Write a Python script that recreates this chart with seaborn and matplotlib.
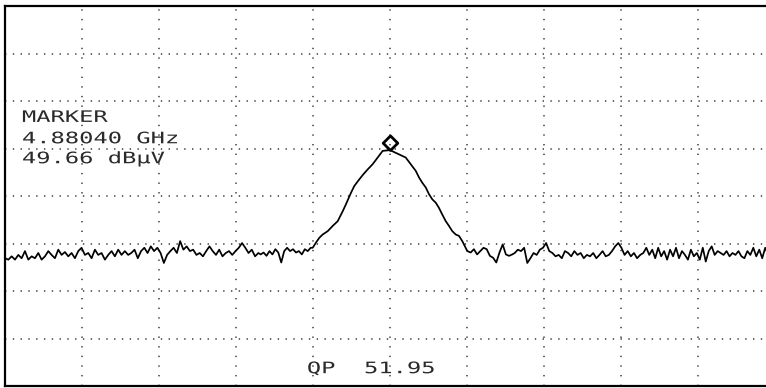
import numpy as np
import pandas as pd
import matplotlib
matplotlib.use("Agg")
import matplotlib.pyplot as plt
import seaborn as sns
from matplotlib.path import Path
from matplotlib.patheffects import AbstractPathEffect
from matplotlib.transforms import Affine2D

# ---------------- data ----------------
center_mhz = 4880.4
span_start_mhz = 4875.4
span_stop_mhz = 4885.4
ref_bottom_db = 0
ref_top_db = 80
marker_freq_text = "4.88040 GHz"
marker_level_text = "49.66 dBµV"
marker_level = 49.66
qp_text = "QP  51.95"

# noise floor segments: (start MHz, stop MHz), levels in dBµV
seg_a_range = (4875.40, 4877.00)
seg_a = [26.9, 26.6, 27.3, 26.6, 27.6, 26.9, 28.4, 26.6, 27.3, 26.9, 28.0, 26.6,
         27.3, 28.4, 27.6, 26.9, 28.7, 27.6, 28.2, 27.3, 28.0, 26.9, 28.4, 29.1,
         27.6, 28.0, 26.9, 28.7, 27.6, 28.0, 26.6, 27.6, 28.4, 27.3, 28.7, 27.6,
         28.4, 27.6]
seg_b_range = (4877.04, 4878.69)
seg_b = [28.0, 28.7, 26.9, 28.4, 29.1, 28.0, 29.4, 28.4, 29.1, 28.0, 25.9, 27.6,
         28.4, 29.1, 28.0, 30.5, 28.7, 29.4, 28.4, 28.7, 27.6, 28.0, 27.3, 28.4,
         29.4, 28.4, 27.6, 28.7, 27.3, 28.0, 28.4, 27.6, 28.4, 29.1, 30.1, 29.1,
         28.0, 28.7, 27.3, 28.0]
seg_c_range = (4878.72, 4879.37)
seg_c = [27.7, 28.1, 27.4, 28.4, 27.7, 28.8, 28.1, 26.0, 28.4, 29.1, 28.4, 28.8,
         28.1, 28.4, 27.7, 28.8, 28.4, 29.1]

# signal peak (explicit frequencies)
peak_freq = [4879.396, 4879.439, 4879.482, 4879.526, 4879.591, 4879.656, 4879.721,
             4879.786, 4879.829, 4879.894, 4879.936, 4880.001, 4880.045, 4880.110,
             4880.175, 4880.240, 4880.305, 4880.400, 4880.474, 4880.539, 4880.604,
             4880.669, 4880.734, 4880.777, 4880.819, 4880.864, 4880.906, 4880.949,
             4880.994, 4881.036, 4881.079, 4881.124, 4881.166, 4881.209, 4881.253,
             4881.296, 4881.339, 4881.383, 4881.404]
peak_level = [29.1, 30.2, 31.2, 31.9, 32.6, 33.7, 34.7, 36.8, 38.3, 40.7, 42.1, 43.5,
              44.4, 45.6, 46.7, 48.1, 49.5, 49.66, 49.1, 48.6, 48.1, 46.7, 45.3, 43.9,
              42.8, 41.8, 40.4, 39.3, 38.6, 37.5, 36.1, 34.7, 33.7, 32.6, 31.9, 31.6,
              30.5, 29.1, 28.4]

seg_d_range = (4881.448, 4881.988)
seg_d = [28.1, 28.8, 27.7, 28.4, 29.1, 28.8, 27.4, 27.0, 26.0, 28.1, 29.8, 27.7,
         27.4, 27.7]
seg_e_range = (4882.02, 4883.65)
seg_e = [28.0, 28.7, 28.4, 29.1, 25.9, 26.9, 28.0, 27.6, 28.7, 29.1, 30.1, 28.4,
         28.0, 27.3, 27.6, 26.9, 28.4, 28.0, 27.3, 28.4, 27.6, 28.0, 26.9, 27.6,
         27.3, 28.0, 26.9, 27.6, 28.4, 27.3, 27.6, 28.4, 29.4, 30.1, 29.1, 27.6,
         28.4, 27.3, 28.0, 26.9, 27.6]
seg_f_range = (4883.69, 4885.35)
seg_f = [28.0, 29.1, 27.6, 28.7, 26.9, 29.1, 27.3, 28.4, 26.6, 28.7, 27.3, 29.1,
         26.9, 28.4, 27.6, 26.6, 28.7, 27.3, 28.0, 26.6, 29.1, 26.2, 28.4, 29.4,
         27.6, 28.4, 28.0, 27.6, 28.4, 27.3, 28.0, 27.6, 28.4, 27.3, 26.9, 28.4,
         27.6, 29.1, 27.3, 28.7, 26.9, 29.1, 27.6, 28.4]

# ---------------- build trace table ----------------
freqs, levels = [], []
def add_seg(rng, vals):
    freqs.extend(np.linspace(rng[0], rng[1], len(vals)))
    levels.extend(vals)

add_seg(seg_a_range, seg_a)
add_seg(seg_b_range, seg_b)
add_seg(seg_c_range, seg_c)
freqs.extend(peak_freq)
levels.extend(peak_level)
add_seg(seg_d_range, seg_d)
add_seg(seg_e_range, seg_e)
add_seg(seg_f_range, seg_f)
df = pd.DataFrame({"freq": freqs, "level": levels})


class HStretch(AbstractPathEffect):
    """Widen glyphs horizontally (plotter-style wide lettering)."""
    def __init__(self, sx):
        super().__init__()
        self.sx = sx

    def draw_path(self, renderer, gc, tpath, affine, rgbFace=None):
        renderer.draw_path(gc, tpath, Affine2D().scale(self.sx, 1.0) + affine, rgbFace)


# ---------------- figure ----------------
sns.set_style("white")
plt.rcParams["font.family"] = ["DejaVu Sans Mono", "DejaVu Sans"]

W, H = 766, 388
fig = plt.figure(figsize=(W / 100, H / 100), dpi=100)
ax = fig.add_axes([5 / W, 2 / H, 770 / W, 380 / H])
ax.set_facecolor("white")

ax.set_xlim(span_start_mhz, span_stop_mhz)
ax.set_ylim(ref_bottom_db, ref_top_db)

# graticule
for k in range(1, 10):
    ax.axvline(span_start_mhz + k, color="#3a3a3a", lw=1.1, dashes=(0.9, 5.4), zorder=1)
for k in range(1, 8):
    ax.axhline(ref_bottom_db + 10 * k, color="#3a3a3a", lw=1.1, dashes=(0.9, 4.2), zorder=1)

sns.lineplot(data=df, x="freq", y="level", color="black", lw=1.25,
             estimator=None, sort=False, ax=ax, zorder=3)

# diamond marker sitting on the peak
diamond = Path([(0, 0), (1, 1), (0, 2), (-1, 1), (0, 0)],
               [Path.MOVETO, Path.LINETO, Path.LINETO, Path.LINETO, Path.CLOSEPOLY])
ax.plot([center_mhz], [marker_level], marker=diamond, ms=21, mfc="none",
        mec="black", mew=2.0, ls="none", zorder=4)

ax.set_xticks([])
ax.set_yticks([])
ax.set_xlabel("")
ax.set_ylabel("")
for side in ["left", "top", "bottom", "right"]:
    ax.spines[side].set_visible(True)
    ax.spines[side].set_color("black")
    ax.spines[side].set_linewidth(1.6)

txt_kw = dict(fontsize=11.4, color="#2a2a2a", ha="left", va="baseline",
              path_effects=[HStretch(1.5)], zorder=5)
ax.text(4875.62, 55.6, "MARKER", **txt_kw)
ax.text(4875.62, 51.1, marker_freq_text, **txt_kw)
ax.text(4875.62, 46.9, marker_level_text, **txt_kw)
ax.text(4879.32, 2.7, qp_text, **txt_kw)

fig.savefig("out.png", dpi=100, facecolor="white")
